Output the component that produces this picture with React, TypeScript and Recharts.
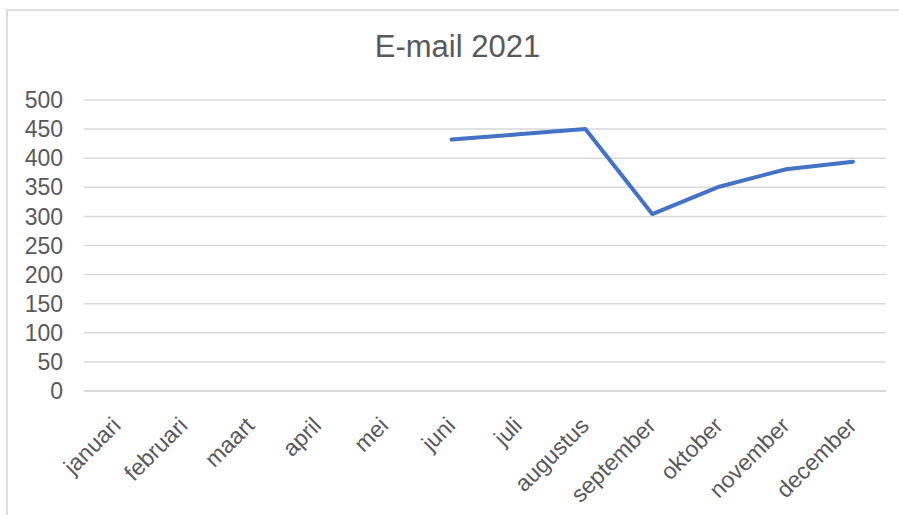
import { LineChart, Line, XAxis, YAxis, CartesianGrid } from 'recharts';

// months on the category axis
const months = [
  'januari', 'februari', 'maart', 'april', 'mei', 'juni',
  'juli', 'augustus', 'september', 'oktober', 'november', 'december',
];

// e-mail counts, no values before juni
const emails = [null, null, null, null, null, 432, 441, 450, 304, 351, 381, 394];

const yTicks = [0, 50, 100, 150, 200, 250, 300, 350, 400, 450, 500];

const data = months.map((m, i) => ({ month: m, email: emails[i] }));

const FONT = "'Liberation Sans', Arial, sans-serif";
const TEXT = '#595959';

function MonthTick({ x, y, payload }: any) {
  return (
    <g transform={`translate(${x + 5},${y + 28})`}>
      <text
        x={0}
        y={0}
        textAnchor="end"
        transform="rotate(-45)"
        fill={TEXT}
        fontSize={23}
        fontFamily={FONT}
      >
        {payload.value}
      </text>
    </g>
  );
}

export default function App() {
  return (
    <div style={{ position: 'absolute', left: 0, top: 0, width: 899, height: 515, background: '#fff', overflow: 'hidden' }}>
      <div
        style={{
          position: 'absolute', left: 6, top: 9, width: 920, height: 540,
          borderLeft: '2px solid #dedede', borderTop: '2px solid #dedede',
        }}
      />
      <div
        style={{
          position: 'absolute', left: 0, top: 29, width: 915, textAlign: 'center',
          fontFamily: FONT, fontSize: 31, color: TEXT, lineHeight: '36px',
        }}
      >
        E-mail 2021
      </div>
      <div style={{ position: 'absolute', left: 0, top: 0 }}>
        <LineChart width={899} height={515} data={data} margin={{ top: 100, right: 13, bottom: 0, left: 0 }}>
          <CartesianGrid vertical={false} stroke="#d9d9d9" strokeWidth={1.5} />
          <XAxis
            dataKey="month"
            height={124}
            padding={{ left: 33, right: 33 }}
            axisLine={{ stroke: '#d9d9d9', strokeWidth: 1.5 }}
            tickLine={false}
            interval={0}
            tick={<MonthTick />}
          />
          <YAxis
            width={84}
            domain={[0, 500]}
            ticks={yTicks}
            interval={0}
            axisLine={false}
            tickLine={false}
            tickMargin={15}
            tick={{ fill: TEXT, fontSize: 23, fontFamily: FONT }}
          />
          <Line
            type="linear"
            dataKey="email"
            stroke="#4472c4"
            strokeWidth={4}
            strokeLinecap="round"
            strokeLinejoin="round"
            dot={false}
            activeDot={false}
            isAnimationActive={false}
          />
        </LineChart>
      </div>
    </div>
  );
}
